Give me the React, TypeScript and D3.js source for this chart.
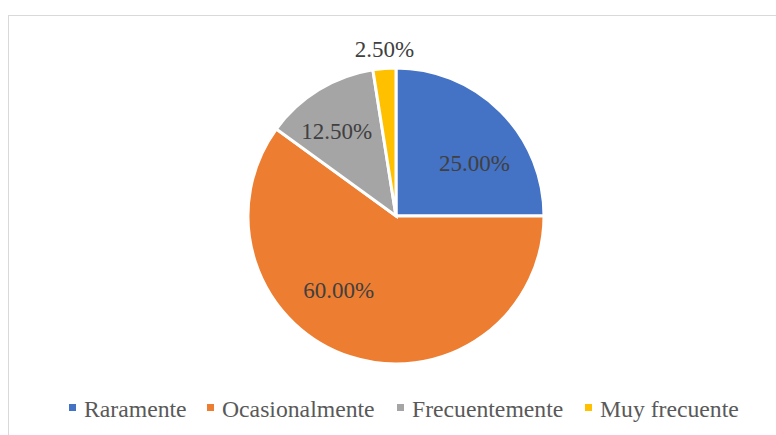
import React from 'react'
import * as d3 from 'd3'

const categories = ['Raramente', 'Ocasionalmente', 'Frecuentemente', 'Muy frecuente']
const values = [25.0, 60.0, 12.5, 2.5]
const colors = ['#4472C4', '#ED7D31', '#A5A5A5', '#FFC000']

const width = 776
const height = 435
const cx = 396
const cy = 216
const radius = 148

// Excel "best fit" label spots: angle nudge (deg) and distance as fraction of radius
const labelFit = [
  { nudge: 11, k: 0.64 },
  { nudge: 20, k: 0.63 },
  { nudge: -3.5, k: 0.7 },
  { nudge: 0.5, k: 1.13 }
]
const legendX = [69, 207, 397, 585]

const pie = d3
  .pie<number>()
  .sort(null)
  .startAngle(0)
  .endAngle(2 * Math.PI)

const arc = d3
  .arc<d3.PieArcDatum<number>>()
  .innerRadius(0)
  .outerRadius(radius)

const fontFamily = '"Liberation Serif", "Times New Roman", serif'

export default function App() {
  const arcs = pie(values)
  return (
    <svg
      width={width}
      height={height}
      style={{ position: 'absolute', left: 0, top: 0, background: '#fff' }}
      fontFamily={fontFamily}
    >
      <rect x={8.5} y={15.5} width={width} height={height} fill="#fff" stroke="#d9d9d9" />
      <g transform={`translate(${cx},${cy})`}>
        {arcs.map((a, i) => (
          <path key={i} d={arc(a) || ''} fill={colors[i]} stroke="#fff" strokeWidth={3} />
        ))}
        {arcs.map((a, i) => {
          const ang = (a.startAngle + a.endAngle) / 2 + (labelFit[i].nudge * Math.PI) / 180
          const r = radius * labelFit[i].k
          const x = Math.sin(ang) * r
          const y = -Math.cos(ang) * r
          return (
            <text
              key={i}
              x={x}
              y={y}
              dy="0.35em"
              textAnchor="middle"
              fontSize={23}
              fill="#404040"
            >
              {d3.format('.2f')(values[i]) + '%'}
            </text>
          )
        })}
      </g>
      <g>
        {categories.map((c, i) => (
          <g key={c} transform={`translate(${legendX[i]},0)`}>
            <rect x={0} y={404} width={7} height={7} fill={colors[i]} />
            <text x={15} y={417} fontSize={23.7} fill="#595959">
              {c}
            </text>
          </g>
        ))}
      </g>
    </svg>
  )
}
